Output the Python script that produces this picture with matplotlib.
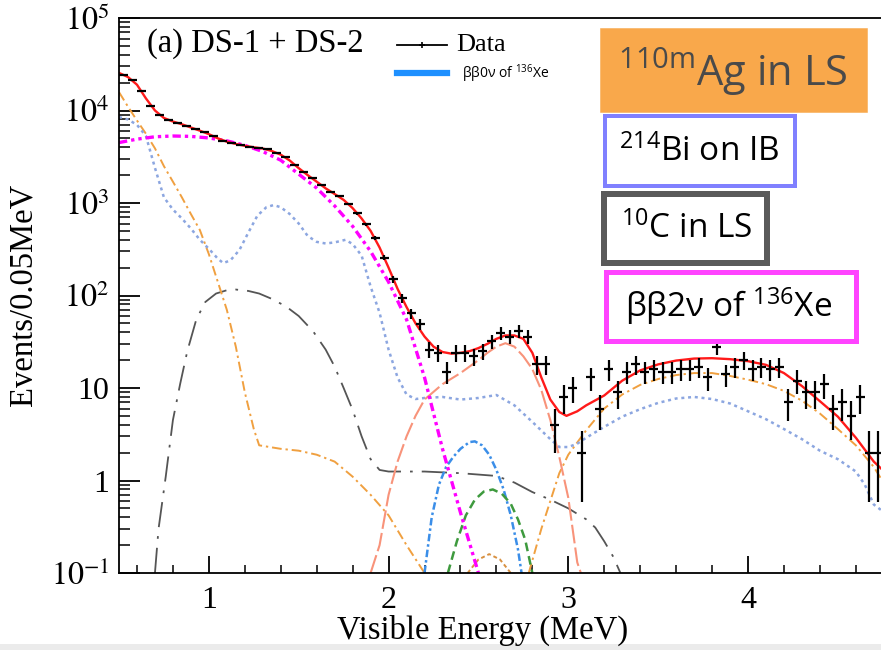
import numpy as np
import matplotlib
matplotlib.use("Agg")
import matplotlib.pyplot as plt
from matplotlib.patches import Rectangle
from matplotlib.lines import Line2D
from matplotlib.ticker import MultipleLocator, LogLocator, NullFormatter, FixedLocator

plt.rcParams['mathtext.fontset'] = 'stix'
plt.rcParams['mathtext.rm'] = 'Open Sans'
plt.rcParams['mathtext.it'] = 'Open Sans:italic'
plt.rcParams['mathtext.bf'] = 'Open Sans:bold'
plt.rcParams['mathtext.sf'] = 'Open Sans'

# ---------------- data ----------------
bin_start = 0.525
bin_width = 0.05
data_counts = [24200, 21400, 16400, 11200, 8900, 7900, 7400, 6800, 6300, 5800,
               5250, 4680, 4470, 4270, 4070, 3980, 3800, 3470, 3160, 2570,
               2140, 1860, 1550, 1320, 1200, 977, 776, 589, 417, 257,
               150, 93, 64, 49, 26, 24, 15, 24, 24, 22,
               25, 32, 39, 36, 41, 36, 18, 18, 4, 8,
               10, 2, 13, 6, 16, 9, 15, 18, 15, 16,
               15, 15, 16, 16, 17, 13, 28, 14, 17, 20,
               16, 17, 16, 17, 7, 12, 9, 9, 11, 6,
               7, 5, 8, 2, 2]

total_E = [0.5, 0.55, 0.6, 0.65, 0.7, 0.75, 0.8, 0.85, 0.9, 0.95, 1.0, 1.05, 1.1, 1.15, 1.2,
           1.25, 1.3, 1.35, 1.4, 1.45, 1.5, 1.55, 1.6, 1.65, 1.7, 1.75, 1.8, 1.85, 1.9, 1.95,
           2.0, 2.05, 2.1, 2.15, 2.2, 2.25, 2.3, 2.35, 2.4, 2.45, 2.5, 2.55, 2.6, 2.65, 2.7,
           2.75, 2.8, 2.85, 2.9, 2.95, 2.99, 3.05, 3.1, 3.2, 3.3, 3.4, 3.5, 3.6, 3.7, 3.8,
           3.9, 4.0, 4.1, 4.2, 4.3, 4.4, 4.5, 4.6, 4.7, 4.74]
total_V = [25500, 23000, 19000, 13500, 10000, 8300, 7600, 7100, 6550, 6050, 5550, 5000, 4600, 4350, 4150,
           4000, 3880, 3650, 3330, 2880, 2380, 2000, 1700, 1440, 1250, 1080, 880, 680, 500, 330,
           200, 118, 75, 50, 36, 28, 24.5, 23.5, 24, 25, 27, 30, 34, 37, 37,
           34, 24, 13, 7.5, 5.5, 5.0, 5.6, 6.5, 8.3, 12, 15.5, 18, 19.8, 20.8, 21,
           20.5, 19.5, 17.8, 14.5, 10.5, 7.2, 4.9, 2.9, 1.6, 1.35]

bb2v_E = [0.5, 0.6, 0.7, 0.8, 0.9, 1.0, 1.1, 1.2, 1.3, 1.4, 1.5, 1.6, 1.7, 1.8, 1.9, 2.0,
          2.1, 2.2, 2.3, 2.4, 2.5]
bb2v_V = [4500, 4900, 5200, 5300, 5250, 5050, 4700, 4200, 3600, 2900, 2050, 1450, 930, 560, 300, 140,
          55, 13, 2.2, 0.45, 0.1]

ag_low_E = [0.5, 0.55, 0.6, 0.65, 0.7, 0.75, 0.8, 0.85, 0.9, 0.95, 1.0, 1.05, 1.1, 1.15, 1.2,
            1.25, 1.28, 1.4, 1.5, 1.6, 1.7, 1.8, 1.9, 2.0, 2.1, 2.2]
ag_low_V = [15800, 11000, 7800, 5600, 3900, 2500, 1700, 1150, 760, 510, 280, 140, 70, 28, 9,
            3.6, 2.4, 2.2, 2.1, 1.9, 1.6, 1.1, 0.7, 0.42, 0.2, 0.1]

bump_E = [2.44, 2.5, 2.56, 2.62, 2.68]
bump_V = [0.1, 0.14, 0.16, 0.14, 0.1]

ag_high_E = [2.78, 2.85, 2.9, 2.95, 3.0, 3.1, 3.2, 3.3, 3.4, 3.5, 3.6, 3.7, 3.8, 3.9, 4.0,
             4.1, 4.2, 4.3, 4.4, 4.5, 4.6, 4.7, 4.74]
ag_high_V = [0.1, 0.3, 0.6, 1.2, 1.9, 3.5, 6.0, 8.5, 10.8, 12.5, 13.8, 14.5, 14.5, 13.5, 12.3,
             11, 9.3, 7.3, 5.3, 3.6, 2.4, 1.4, 1.05]

bi_E = [0.5, 0.55, 0.6, 0.65, 0.7, 0.75, 0.8, 0.85, 0.9, 0.95, 1.0, 1.05, 1.08, 1.12, 1.17,
        1.22, 1.27, 1.32, 1.36, 1.4, 1.45, 1.5, 1.55, 1.6, 1.65, 1.7, 1.76, 1.8, 1.85, 1.9,
        1.95, 2.0, 2.05, 2.1, 2.15, 2.2, 2.3, 2.4, 2.5, 2.6, 2.7, 2.8, 2.9, 2.95, 3.0,
        3.05, 3.1, 3.2, 3.3, 3.4, 3.5, 3.6, 3.7, 3.8, 3.9, 4.0, 4.1, 4.2, 4.3, 4.4,
        4.5, 4.6, 4.65, 4.7, 4.74]
bi_V = [8500, 8000, 7000, 5300, 2400, 1150, 850, 680, 530, 400, 320, 250, 224, 240, 310,
        480, 730, 900, 950, 900, 760, 600, 440, 380, 365, 375, 400, 360, 270, 125,
        65, 26, 13, 8.5, 7.6, 7.8, 8, 7.5, 7.8, 8.4, 6.5, 4.3, 2.8, 2.3, 2.3,
        2.5, 2.9, 3.8, 4.9, 5.9, 6.9, 7.7, 8.0, 7.6, 6.8, 5.6, 4.6, 3.6, 2.8, 2.1,
        1.7, 1.25, 0.9, 0.55, 0.48]

c10_E = [0.7, 0.72, 0.76, 0.8, 0.84, 0.88, 0.93, 0.98, 1.04, 1.1, 1.15, 1.22, 1.28, 1.35, 1.43,
         1.5, 1.58, 1.65, 1.7, 1.75, 1.8, 1.85, 1.9, 1.95, 2.0, 2.2, 2.4, 2.6, 2.7, 2.8,
         2.9, 3.0, 3.1, 3.15, 3.2, 3.25, 3.29]
c10_V = [0.1, 0.3, 1.1, 4.5, 11, 25, 55, 85, 105, 114, 116, 112, 105, 92, 76,
         60, 41, 26, 17, 10, 5.8, 3.0, 1.7, 1.3, 1.25, 1.25, 1.2, 1.12, 0.95, 0.75,
         0.62, 0.5, 0.38, 0.31, 0.22, 0.15, 0.1]

agpeak_E = [1.9, 1.95, 2.0, 2.05, 2.1, 2.15, 2.2, 2.3, 2.4, 2.5, 2.55, 2.6, 2.65, 2.7, 2.75,
            2.8, 2.85, 2.9, 2.95, 3.0, 3.05, 3.07]
agpeak_V = [0.1, 0.2, 0.7, 1.6, 3.0, 5.0, 7.5, 11, 14.5, 20, 24, 28, 30.5, 28, 22,
            16, 9.5, 4.5, 1.8, 0.65, 0.13, 0.1]

bb0v_E = [2.2, 2.24, 2.28, 2.32, 2.36, 2.4, 2.45, 2.48, 2.52, 2.56, 2.6, 2.64, 2.68, 2.72, 2.74]
bb0v_V = [0.1, 0.4, 0.9, 1.4, 1.8, 2.2, 2.6, 2.65, 2.4, 1.9, 1.3, 0.8, 0.42, 0.18, 0.1]

green_E = [2.33, 2.38, 2.43, 2.48, 2.53, 2.58, 2.63, 2.68, 2.72, 2.76, 2.8]
green_V = [0.1, 0.22, 0.42, 0.62, 0.76, 0.8, 0.72, 0.56, 0.38, 0.23, 0.1]

xtick_vals = [1, 2, 3, 4]
xtick_labels = ['1', '2', '3', '4']
ytick_vals = [0.1, 1, 10, 100, 1e3, 1e4, 1e5]
ytick_labels = ['$10^{-1}$', '1', '10', '$10^{2}$', '$10^{3}$', '$10^{4}$', '$10^{5}$']

# ---------------- figure ----------------
W, H = 881, 650
fig = plt.figure(figsize=(W / 100, H / 100), dpi=100)
ax = fig.add_axes([119 / W, 1 - 573 / H, (W - 119) / W, (573 - 18) / H])
ax.set_yscale('log')
ax.set_xlim(0.5, 4.74)
ax.set_ylim(0.1, 1e5)

def P(x, y):
    return (x / W, 1 - y / H)

# components
ax.plot(c10_E, c10_V, color='#555555', lw=1.3, ls=(0, (14, 5, 1.5, 5)))
ax.plot(ag_low_E, ag_low_V, color='#F0A040', lw=1.4, ls=(0, (5, 2, 1.2, 2)))
ax.plot(bump_E, bump_V, color='#D89040', lw=1.4, ls=(0, (2, 1.5)))
ax.plot(ag_high_E, ag_high_V, color='#F0A040', lw=1.4, ls=(0, (5, 2, 1.2, 2)))
ax.plot(bi_E, bi_V, color='#8CA6E0', lw=1.8, ls=(0, (1.2, 1.5)))
ax.plot(agpeak_E, agpeak_V, color='#F8937A', lw=1.5, ls=(0, (9, 2)))
ax.plot(bb0v_E, bb0v_V, color='#3B8EE8', lw=1.8, ls=(0, (3, 1.2, 1, 1.2)))
ax.plot(green_E, green_V, color='#3E9A3E', lw=1.8, ls=(0, (3.5, 2)))
ax.plot(bb2v_E, bb2v_V, color='#FF00FF', lw=2.4, ls=(0, (2.5, 1.2, 1, 1.2, 1, 1.2)))
ax.plot(total_E, total_V, color='#FF1A1A', lw=1.7)

counts = np.array(data_counts, dtype=float)
data_E = bin_start + bin_width * np.arange(len(counts))
ax.errorbar(data_E, counts, xerr=bin_width / 2, yerr=np.sqrt(counts), fmt='none',
            ecolor='black', elinewidth=1.6, capsize=0, zorder=5)

# axes styling
ax.spines['right'].set_visible(False)
for s in ['left', 'bottom', 'top']:
    ax.spines[s].set_linewidth(1.3)
ax.xaxis.set_major_locator(FixedLocator(xtick_vals))
ax.set_xticklabels(xtick_labels)
ax.xaxis.set_minor_locator(MultipleLocator(0.2))
ax.set_yticks(ytick_vals)
ax.set_yticklabels(ytick_labels)
ax.yaxis.set_minor_locator(LogLocator(base=10, subs=np.arange(2, 10)))
ax.yaxis.set_minor_formatter(NullFormatter())
ax.tick_params(axis='both', which='both', direction='in', top=False, right=False)
ax.tick_params(axis='y', which='major', length=15, width=1.3, pad=7)
ax.tick_params(axis='y', which='minor', length=8, width=1.1)
ax.tick_params(axis='x', which='major', length=12, width=1.3, pad=9)
ax.tick_params(axis='x', which='minor', length=6, width=1.1)
for lab in ax.get_xticklabels() + ax.get_yticklabels():
    lab.set_fontfamily('Liberation Serif')
    lab.set_fontsize(23)

# axis labels
fig.text(*P(483, 630), 'Visible Energy (MeV)', family='Liberation Serif', fontsize=23.5,
         ha='center', va='center')
fig.text(*P(23, 295), 'Events/0.05MeV', family='Liberation Serif', fontsize=23.5,
         ha='center', va='center', rotation=90)

# panel title and legend
fig.text(*P(147, 44), '(a) DS-1 + DS-2', family='Liberation Serif', fontsize=23.5,
         ha='left', va='center')
fig.add_artist(Line2D([397 / W, 447 / W], [1 - 45 / H, 1 - 45 / H], color='black', lw=1.3,
                      transform=fig.transFigure))
fig.add_artist(Line2D([422 / W], [1 - 45 / H], color='black', marker='+', ms=5, mew=1.2,
                      transform=fig.transFigure))
fig.text(*P(456, 45), 'Data', family='Liberation Serif', fontsize=19, ha='left', va='center')
fig.add_artist(Line2D([397 / W, 447 / W], [1 - 73 / H, 1 - 73 / H], color='#1E90FF', lw=4.5,
                      transform=fig.transFigure))
fig.text(*P(462, 74), 'ββ0ν of $^{136}$Xe', family='Open Sans', fontsize=10,
         ha='left', va='center', math_fontfamily='custom')

# labelled boxes
def box(x0, y0, x1, y1, edge, lw_px, face='white'):
    inset = lw_px / 2
    r = Rectangle(P(x0 + inset, y1 - inset), (x1 - x0 - lw_px) / W, (y1 - y0 - lw_px) / H,
                  transform=fig.transFigure, facecolor=face, edgecolor=edge,
                  linewidth=lw_px * 0.72, zorder=10)
    fig.add_artist(r)

box(600, 28, 867, 112, '#F9A84B', 0.5, face='#F9A84B')
fig.text(*P(733, 72), r'$^{\mathrm{110m}}$Ag in LS', family='Open Sans', fontsize=30,
         color='#4A4A4A', ha='center', va='center', math_fontfamily='custom', zorder=11)
box(603, 114, 797, 188, '#8080FF', 4)
fig.text(*P(699, 152), r'$^{\mathrm{214}}$Bi on IB', family='Open Sans', fontsize=24,
         color='black', ha='center', va='center', math_fontfamily='custom', zorder=11)
box(601, 191, 770, 266, '#5A5A5A', 6)
fig.text(*P(687, 229), r'$^{\mathrm{10}}$C in LS', family='Open Sans', fontsize=24,
         color='black', ha='center', va='center', math_fontfamily='custom', zorder=11)
box(603, 269, 858, 343, '#FF44FF', 5)
fig.text(*P(729, 306), r'ββ2ν of $^{\mathrm{136}}$Xe', family='Open Sans', fontsize=24,
         color='black', ha='center', va='center', math_fontfamily='custom', zorder=11)

# faint strip at the bottom edge
fig.add_artist(Rectangle((0, 0), 1, 6 / H, transform=fig.transFigure, facecolor='#EBEBEB',
                         edgecolor='none'))

fig.savefig('out.png', dpi=100)
